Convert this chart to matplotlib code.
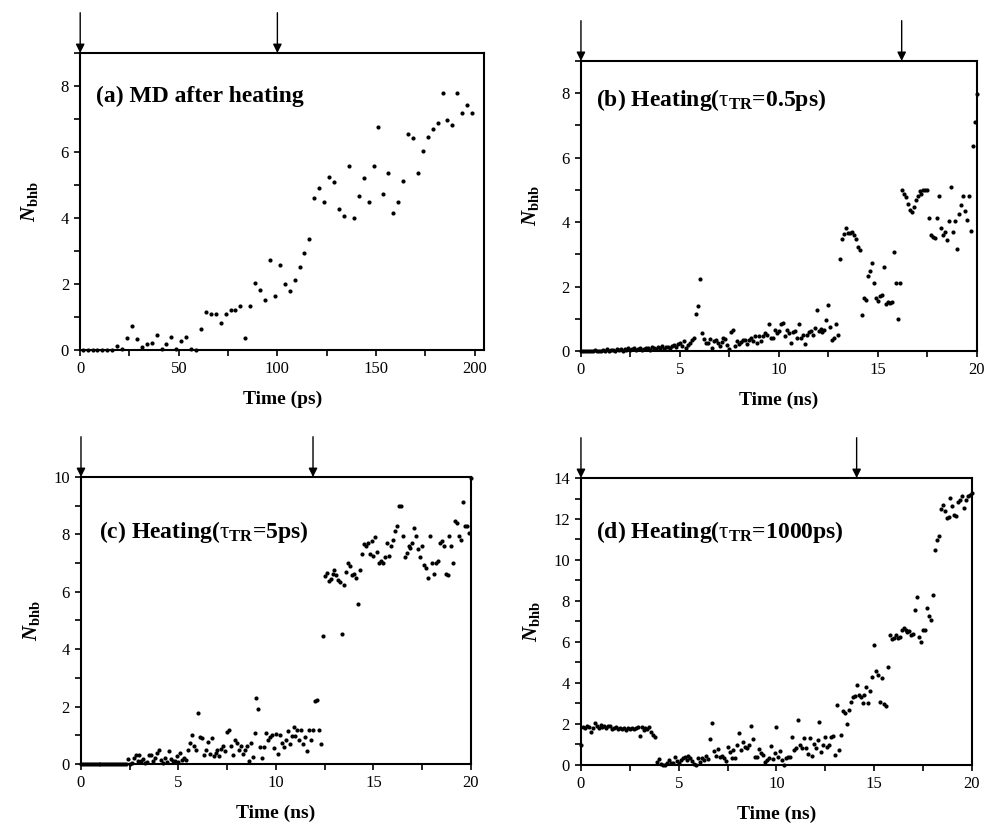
import numpy as np
import matplotlib
matplotlib.use('Agg')
import matplotlib.pyplot as plt
from matplotlib.ticker import MultipleLocator

plt.rcParams['font.family'] = ['Liberation Serif', 'DejaVu Serif']
plt.rcParams['mathtext.fontset'] = 'custom'
plt.rcParams['mathtext.rm'] = 'Liberation Serif'
plt.rcParams['mathtext.bf'] = 'Liberation Serif:bold'
plt.rcParams['mathtext.it'] = 'Liberation Serif:italic:bold'

# (a) MD after heating: one sample every 2.5 ps
t0_a, dt_a = 1.25, 2.5
n_a = [0, 0, 0, 0, 0, 0, 0, 0.12, 0.04, 0.37,
       0.73, 0.33, 0.08, 0.18, 0.22, 0.45, 0.04, 0.18, 0.39, 0.04,
       0.28, 0.39, 0.04, 0.0, 0.63, 1.16, 1.09, 1.09, 0.81, 1.09,
       1.22, 1.20, 1.33, 0.35, 1.33, 2.04, 1.83, 1.53, 2.73, 1.64,
       2.59, 2.01, 1.78, 2.12, 2.51, 2.93, 3.36, 4.62, 4.92, 4.49,
       5.23, 5.10, 4.26, 4.06, 5.58, 3.99, 4.67, 5.20, 4.47, 5.57,
       6.76, 4.72, 5.35, 4.14, 4.48, 5.11, 6.54, 6.41, 5.37, 6.04,
       6.44, 6.70, 6.88, 7.80, 6.96, 6.81, 7.80, 7.17, 7.41, 7.17]

# (b)-(d) heating runs: one sample every 0.1 ns, 0..20 ns
dt_ns = 0.1
n_b = [0, 0, 0, 0, 0, 0, 0, 0.02, 0, 0,
       0, 0.03, 0, 0.05, 0, 0.02, 0.04, 0, 0.05, 0.02,
       0.05, 0, 0.06, 0.03, 0.08, 0.02, 0.05, 0.1, 0.04, 0.06,
       0.08, 0.03, 0.05, 0.09, 0.1, 0.04, 0.12, 0.08, 0.05, 0.13,
       0.1, 0.15, 0.07, 0.13, 0.12, 0.09, 0.15, 0.18, 0.12, 0.23,
       0.25, 0.17, 0.3, 0.09, 0.2, 0.25, 0.33, 0.4, 1.14, 1.39,
       2.23, 0.55, 0.38, 0.24, 0.24, 0.38, 0.08, 0.3, 0.34, 0.24,
       0.15, 0.29, 0.39, 0.36, 0.2, 0.05, 0.6, 0.66, 0.17, 0.3,
       0.22, 0.29, 0.33, 0.35, 0.22, 0.35, 0.41, 0.3, 0.46, 0.25,
       0.46, 0.3, 0.46, 0.55, 0.5, 0.85, 0.4, 0.4, 0.66, 0.55,
       0.63, 0.85, 0.87, 0.46, 0.66, 0.55, 0.24, 0.59, 0.63, 0.4,
       0.85, 0.39, 0.5, 0.22, 0.51, 0.59, 0.63, 0.51, 0.7, 1.28,
       0.63, 0.68, 0.59, 0.66, 0.97, 1.44, 0.75, 0.34, 0.41, 0.85,
       0.51, 2.84, 3.46, 3.63, 3.81, 3.65, 3.67, 3.69, 3.6, 3.47,
       3.22, 3.12, 1.13, 1.64, 1.59, 2.34, 2.49, 2.72, 2.1, 1.65,
       1.55, 1.7, 1.74, 2.6, 1.47, 1.52, 1.5, 1.52, 3.06, 2.11,
       1.0, 2.11, 4.98, 4.86, 4.78, 4.55, 4.36, 4.32, 4.47, 4.68,
       4.81, 4.96, 4.86, 4.98, 4.98, 4.98, 4.14, 3.6, 3.55, 3.5,
       4.14, 4.8, 3.83, 3.6, 3.7, 3.45, 4.02, 5.1, 3.7, 4.02,
       3.18, 4.26, 4.52, 4.82, 4.33, 4.07, 4.82, 3.72, 6.37, 7.12,
       7.96]

n_c = [0, 0, 0, 0, 0, 0, 0, 0, 0, 0,
       0, 0, 0, 0, 0, 0, 0, 0, 0, 0,
       0, 0, 0, 0, 0.17, 0, 0.05, 0.2, 0.32, 0.1,
       0.32, 0.09, 0.17, 0.05, 0.06, 0.32, 0.32, 0.1, 0.2, 0.38,
       0.5, 0.15, 0.05, 0.2, 0.06, 0.45, 0.17, 0.09, 0.09, 0.27,
       0.06, 0.38, 0.15, 0.2, 0.13, 0.5, 0.73, 1.02, 0.61, 0.5,
       1.78, 0.93, 0.9, 0.33, 0.5, 0.76, 0.36, 0.9, 0.29, 0.38,
       0.5, 0.27, 0.52, 0.61, 0.45, 1.13, 1.19, 0.61, 0.33, 0.83,
       0.73, 0.48, 0.61, 0.36, 0.5, 0.61, 0.09, 0.73, 0.24, 1.09,
       2.31, 1.9, 0.6, 0.2, 0.6, 1.09, 0.83, 0.94, 1.02, 0.56,
       1.05, 0.36, 1.02, 0.73, 0.6, 0.85, 1.14, 0.68, 0.96, 1.29,
       0.96, 1.2, 0.85, 1.2, 0.69, 0.95, 0.44, 1.2, 0.85, 1.2,
       2.18, 2.24, 1.2, 0.68, 4.46, 6.55, 6.67, 6.38, 6.44, 6.61,
       6.76, 6.57, 6.41, 6.34, 4.53, 6.24, 6.68, 7.0, 6.9, 6.57,
       6.61, 6.49, 5.56, 6.76, 7.3, 7.65, 7.59, 7.71, 7.3, 7.76,
       7.26, 7.91, 7.4, 7.0, 7.06, 7.02, 7.23, 7.69, 7.26, 7.59,
       7.82, 8.12, 8.29, 9.0, 9.0, 7.94, 7.22, 7.36, 7.59, 7.53,
       7.71, 8.23, 7.94, 7.5, 7.23, 7.59, 6.92, 6.83, 6.49, 7.94,
       7.0, 6.61, 7.02, 7.06, 7.69, 7.76, 7.59, 6.61, 6.57, 7.94,
       7.59, 7.02, 8.46, 8.4, 7.94, 7.82, 9.12, 8.29, 8.31, 8.06,
       9.95]

n_d = [0.98, 1.87, 1.8, 1.92, 1.85, 1.6, 1.78, 2.06, 1.9, 1.82,
       1.95, 1.85, 1.9, 1.78, 1.88, 1.92, 1.74, 1.8, 1.85, 1.76,
       1.82, 1.75, 1.78, 1.72, 1.8, 1.76, 1.82, 1.74, 1.78, 1.85,
       1.41, 1.87, 1.72, 1.8, 1.76, 1.85, 1.63, 1.45, 1.38, 0.16,
       0.27, 0.05, 0.0, 0.0, 0.08, 0.24, 0.11, 0.1, 0.41, 0.21,
       0.11, 0.24, 0.33, 0.41, 0.24, 0.44, 0.33, 0.21, 0.05, 0.0,
       0.33, 0.16, 0.33, 0.24, 0.44, 0.27, 1.25, 2.03, 0.69, 0.44,
       0.76, 0.37, 0.44, 0.33, 0.21, 0.89, 0.65, 0.33, 0.73, 0.33,
       0.97, 1.54, 0.73, 1.13, 0.89, 0.81, 0.97, 1.9, 1.25, 0.37,
       0.37, 0.76, 0.6, 0.49, 0.16, 0.24, 0.33, 0.93, 0.27, 0.57,
       1.87, 0.41, 0.69, 0.24, 0.0, 0.33, 0.37, 0.37, 1.35, 0.73,
       0.81, 2.2, 0.97, 0.81, 1.3, 0.81, 0.53, 1.3, 0.44, 1.01,
       0.85, 1.2, 2.11, 0.65, 0.97, 1.35, 0.89, 0.97, 1.35, 1.41,
       0.49, 2.93, 0.73, 1.46, 2.64, 2.52, 1.98, 2.68, 3.09, 3.32,
       3.35, 3.9, 3.41, 3.3, 3.02, 3.41, 3.82, 3.02, 3.59, 4.3,
       5.85, 4.57, 4.37, 3.09, 4.24, 2.98, 2.9, 4.8, 6.34, 6.13,
       6.2, 6.34, 6.2, 6.25, 6.6, 6.7, 6.6, 6.5, 6.55, 6.34,
       6.4, 7.57, 8.2, 6.24, 5.98, 6.6, 6.57, 7.65, 7.28, 7.08,
       8.3, 10.5, 10.96, 11.18, 12.47, 12.66, 12.4, 12.06, 12.1, 13.02,
       12.62, 12.21, 12.13, 12.81, 12.94, 13.1, 12.55, 12.94, 13.1, 13.18,
       13.26]

labels = ['(a) MD after heating',
          r'(b) Heating($\mathrm{\tau}_{\mathbf{TR}}$=0.5ps)',
          r'(c) Heating($\mathrm{\tau}_{\mathbf{TR}}$=5ps)',
          r'(d) Heating($\mathrm{\tau}_{\mathbf{TR}}$=1000ps)']
xlabels = ['Time (ps)', 'Time (ns)', 'Time (ns)', 'Time (ns)']
arrows = [[0, 100], [0, 16.2], [0, 11.9], [0, 14.1]]
xmax = [205, 20, 20, 20]
ymax = [9, 9, 10, 14]
xstep = [50, 5, 5, 5]

t_a = t0_a + dt_a * np.arange(len(n_a))
t_ns = dt_ns * np.arange(len(n_b))
times = [t_a, t_ns, t_ns, t_ns]
counts = [n_a, n_b, n_c, n_d]

rects = [[0.0815, 0.5768, 0.4108, 0.3591],
         [0.5904, 0.5756, 0.4024, 0.3507],
         [0.0823, 0.0762, 0.3963, 0.3470],
         [0.5904, 0.0750, 0.3974, 0.3470]]
text_pos = [(0.04, 0.855), (0.038, 0.866), (0.046, 0.81), (0.038, 0.813)]

fig = plt.figure(figsize=(9.84, 8.27), dpi=100)

for k in range(4):
    ax = fig.add_axes(rects[k])
    ax.plot(times[k], counts[k], 'o', ms=3.0, color='black', mec='none', clip_on=False)
    ax.set_xlim(0, xmax[k])
    ax.set_ylim(0, ymax[k])
    ax.xaxis.set_major_locator(MultipleLocator(xstep[k]))
    ax.xaxis.set_minor_locator(MultipleLocator(xstep[k] / 2))
    ax.yaxis.set_major_locator(MultipleLocator(2))
    ax.yaxis.set_minor_locator(MultipleLocator(1))
    ax.tick_params(which='both', direction='out', length=4, width=1.2,
                   labelsize=12, pad=4, top=False, right=False)
    for s in ax.spines.values():
        s.set_linewidth(1.5)
    ax.set_xlabel(xlabels[k], fontsize=14, fontweight='bold', labelpad=10)
    ax.set_ylabel(r'$N_{\mathbf{bhb}}$', fontsize=15)
    ax.yaxis.set_label_coords(-0.1, 0.5)
    ax.text(text_pos[k][0], text_pos[k][1], labels[k], transform=ax.transAxes,
            fontsize=17, fontweight='bold', va='center', ha='left')
    for xa in arrows[k]:
        ax.annotate('', xy=(xa, 1), xycoords=('data', 'axes fraction'),
                    xytext=(0, 29), textcoords='offset points',
                    arrowprops=dict(arrowstyle='-|>', color='black', lw=1,
                                    mutation_scale=13, shrinkA=0, shrinkB=0))

fig.savefig('out.png', dpi=100)
